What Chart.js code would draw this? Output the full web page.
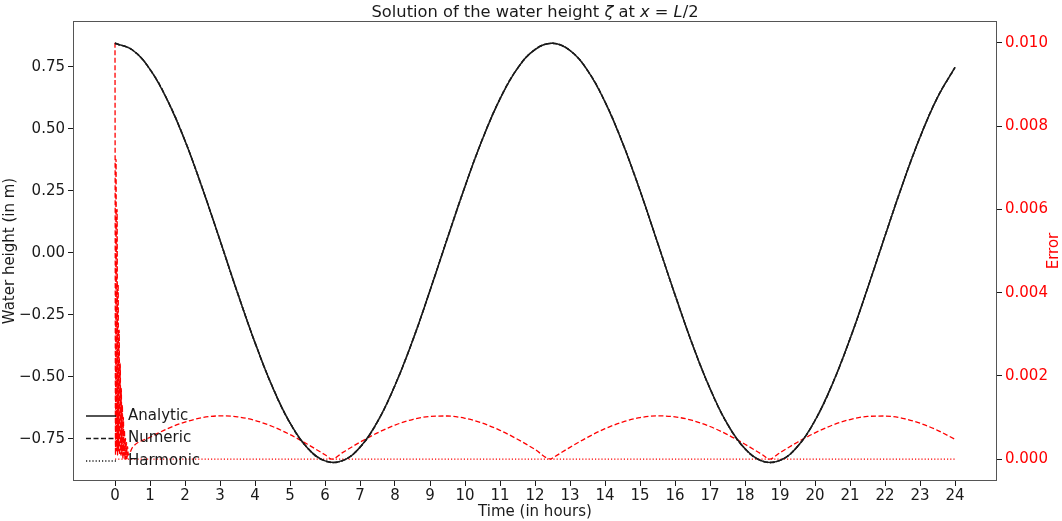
<!DOCTYPE html>
<html>
<head>
<meta charset="utf-8">
<script src="https://cdn.jsdelivr.net/npm/chart.js@4.4.1/dist/chart.umd.min.js"></script>
<style>
  html, body { margin: 0; padding: 0; background: #fff; }
  #wrap { width: 1062px; height: 521px; position: relative; }
</style>
</head>
<body>
<div id="wrap"><canvas id="zetaChart"></canvas></div>
<script>
// time axis (hours) for the smooth solutions
const hours = [0, 0.5, 1, 1.5, 2, 2.5, 3, 3.5, 4, 4.5, 5, 5.5, 6, 6.5, 7, 7.5, 8, 8.5, 9, 9.5, 10, 10.5, 11, 11.5,
  12, 12.5, 13, 13.5, 14, 14.5, 15, 15.5, 16, 16.5, 17, 17.5, 18, 18.5, 19, 19.5, 20, 20.5, 21, 21.5, 22, 22.5, 23, 23.5, 24];

// water height at x = L/2 (m)
const analytic = [0.845, 0.818, 0.740, 0.615, 0.452, 0.259, 0.051, -0.161, -0.362, -0.541, -0.686, -0.787, -0.839,
  -0.838, -0.784, -0.681, -0.534, -0.355, -0.152, 0.060, 0.268, 0.459, 0.621, 0.744, 0.820, 0.845, 0.816, 0.736,
  0.609, 0.444, 0.251, 0.042, -0.169, -0.370, -0.547, -0.691, -0.790, -0.840, -0.837, -0.781, -0.676, -0.528,
  -0.347, -0.144, 0.068, 0.276, 0.466, 0.627, 0.748];
const numeric = analytic;
const harmonic = analytic;

// error of the numeric scheme: start-up oscillations, then the slow arches
const errTime = [0, 0.015, 0.03, 0.045, 0.06, 0.075, 0.09, 0.105, 0.12, 0.135, 0.15, 0.165, 0.18, 0.195, 0.21,
  0.225, 0.24, 0.255, 0.27, 0.285, 0.3, 0.315, 0.33, 0.345, 0.36, 0.38, 0.5, 1, 1.5, 2, 2.5, 3, 3.5, 4, 4.5, 5, 5.5,
  6, 6.2, 6.5, 7, 7.5, 8, 8.5, 9, 9.5, 10, 10.5, 11, 11.5, 12, 12.45, 12.5, 13, 13.5, 14, 14.5, 15, 15.5, 16, 16.5,
  17, 17.5, 18, 18.5, 18.7, 19, 19.5, 20, 20.5, 21, 21.5, 22, 22.5, 23, 23.5, 24];
const errNumeric = [0.0100, 0.0001, 0.0072, 0.0002, 0.0060, 0.0001, 0.0042, 0.0002, 0.0031, 0.0001, 0.0023, 0.0001,
  0.0017, 0.0001, 0.0013, 0.0000, 0.0010, 0.0001, 0.0007, 0.0000, 0.0005, 0.0000, 0.0004, 0.0000, 0.0003, 0.0001,
  0.000284, 0.000524, 0.000731, 0.000892, 0.000997, 0.001039, 0.001016, 0.000930, 0.000784, 0.000590, 0.000358,
  0.000104, 0, 0.000156, 0.000407, 0.000632, 0.000818, 0.000952, 0.001026, 0.001036, 0.000981, 0.000864, 0.000693,
  0.000478, 0.000233, 0, 0.000026, 0.000284, 0.000524, 0.000731, 0.000892, 0.000997, 0.001039, 0.001016, 0.000930,
  0.000784, 0.000590, 0.000358, 0.000104, 0, 0.000156, 0.000407, 0.000632, 0.000818, 0.000952, 0.001026, 0.001036,
  0.000981, 0.000864, 0.000693, 0.000478];
const errHarmonicTime = [0, 24];
const errHarmonic = [0, 0];

const xTicks = [0, 1, 2, 3, 4, 5, 6, 7, 8, 9, 10, 11, 12, 13, 14, 15, 16, 17, 18, 19, 20, 21, 22, 23, 24];
const yTicks = [-0.75, -0.5, -0.25, 0, 0.25, 0.5, 0.75];
const errTicks = [0, 0.002, 0.004, 0.006, 0.008, 0.010];
const legendLabels = ['Analytic', 'Numeric', 'Harmonic'];

const FONT = '"DejaVu Sans", sans-serif';
const INK = '#1a1a1a';
const RED = '#ff0000';
const SPINE = '#555';

function pts(xs, ys) { return xs.map((x, i) => ({ x, y: ys[i] })); }
function fixTicks(values) { return (scale) => { scale.ticks = values.map(v => ({ value: v })); }; }
function minus(s) { return s.replace('-', '\u2212'); }

// frame, mathtext-style title, right axis label and in-axes legend
const decorations = {
  id: 'decorations',
  afterDatasetsDraw(chart) {
    const { ctx, chartArea: a } = chart;
    ctx.save();
    ctx.strokeStyle = SPINE;
    ctx.lineWidth = 1;
    ctx.strokeRect(a.left + 0.5, a.top + 0.5, a.right - a.left - 1, a.bottom - a.top - 1);

    // legend (no frame), lower left
    const dashes = [[], [5, 2.5], [1.2, 2]];
    ctx.font = '15px ' + FONT;
    ctx.textBaseline = 'middle';
    legendLabels.forEach((lab, i) => {
      const y = a.top + 395 + i * 22.5;
      ctx.strokeStyle = INK;
      ctx.lineWidth = 1.5;
      ctx.setLineDash(dashes[i]);
      ctx.beginPath();
      ctx.moveTo(a.left + 13, y);
      ctx.lineTo(a.left + 43, y);
      ctx.stroke();
      ctx.setLineDash([]);
      ctx.fillStyle = INK;
      ctx.fillText(lab, a.left + 55, y);
    });

    // right axis label reads bottom to top
    ctx.save();
    ctx.translate(1054, (a.top + a.bottom) / 2);
    ctx.rotate(-Math.PI / 2);
    ctx.textAlign = 'center';
    ctx.fillStyle = RED;
    ctx.font = '15px ' + FONT;
    ctx.fillText('Error', 0, 0);
    ctx.restore();

    // title with italic math symbols
    const parts = [['Solution of the water height ', false], ['\u03b6', true], [' at ', false], ['x', true],
      [' = ', false], ['L', true], ['/2', false]];
    const fontOf = (it) => (it ? 'oblique ' : '') + '16.3px ' + FONT;
    let total = 0;
    parts.forEach(([t, it]) => { ctx.font = fontOf(it); total += ctx.measureText(t).width; });
    let x = (a.left + a.right) / 2 - total / 2;
    ctx.fillStyle = INK;
    ctx.textBaseline = 'alphabetic';
    ctx.textAlign = 'left';
    parts.forEach(([t, it]) => { ctx.font = fontOf(it); ctx.fillText(t, x, 17); x += ctx.measureText(t).width; });
    ctx.restore();
  },
};

const ctx = document.getElementById('zetaChart');
new Chart(ctx, {
  type: 'line',
  data: {
    datasets: [
      { label: 'Analytic', data: pts(hours, analytic), yAxisID: 'y', borderColor: INK, borderWidth: 1.5, pointRadius: 0, tension: 0.4 },
      { label: 'Numeric', data: pts(hours, numeric), yAxisID: 'y', borderColor: INK, borderWidth: 1.5, borderDash: [5, 2.5], pointRadius: 0, tension: 0.4 },
      { label: 'Harmonic', data: pts(hours, harmonic), yAxisID: 'y', borderColor: INK, borderWidth: 1.5, borderDash: [1.2, 2], pointRadius: 0, tension: 0.4 },
      { label: 'Error numeric', data: pts(errTime, errNumeric), yAxisID: 'y2', borderColor: RED, borderWidth: 1.3, borderDash: [5, 2.5], pointRadius: 0, cubicInterpolationMode: 'monotone' },
      { label: 'Error harmonic', data: pts(errHarmonicTime, errHarmonic), yAxisID: 'y2', borderColor: RED, borderWidth: 1.3, borderDash: [1.2, 2], pointRadius: 0 },
    ],
  },
  options: {
    responsive: true,
    maintainAspectRatio: false,
    animation: false,
    layout: { padding: { top: 21, left: 0, right: 0, bottom: 0 } },
    plugins: { legend: { display: false }, tooltip: { enabled: false }, title: { display: false } },
    scales: {
      x: {
        type: 'linear', min: -1.2, max: 25.2,
        afterBuildTicks: fixTicks(xTicks),
        afterFit: (s) => { s.height = 40; },
        grid: { display: true, drawOnChartArea: false, tickLength: 5, tickColor: INK },
        border: { display: false },
        ticks: { color: INK, font: { family: FONT, size: 15 }, padding: 1, maxRotation: 0, autoSkip: false, callback: (v) => String(v) },
        title: { display: true, text: 'Time (in hours)', color: INK, font: { family: FONT, size: 15 }, padding: { top: 0, bottom: 0 } },
      },
      y: {
        position: 'left', min: -0.92, max: 0.935,
        afterBuildTicks: fixTicks(yTicks),
        afterFit: (s) => { s.width = 73; },
        grid: { display: true, drawOnChartArea: false, tickLength: 5, tickColor: INK },
        border: { display: false },
        ticks: { color: INK, font: { family: FONT, size: 15 }, padding: 3, autoSkip: false, callback: (v) => minus(v.toFixed(2)) },
        title: { display: true, text: 'Water height (in m)', color: INK, font: { family: FONT, size: 15 }, padding: { top: 1, bottom: 2 } },
      },
      y2: {
        position: 'right', min: -0.000525, max: 0.010525,
        afterBuildTicks: fixTicks(errTicks),
        afterFit: (s) => { s.width = 65; },
        grid: { display: true, drawOnChartArea: false, tickLength: 5, tickColor: INK },
        border: { display: false },
        ticks: { color: RED, font: { family: FONT, size: 15 }, padding: 3, autoSkip: false, callback: (v) => v.toFixed(3) },
        title: { display: false },
      },
    },
  },
  plugins: [decorations],
});
</script>
</body>
</html>
